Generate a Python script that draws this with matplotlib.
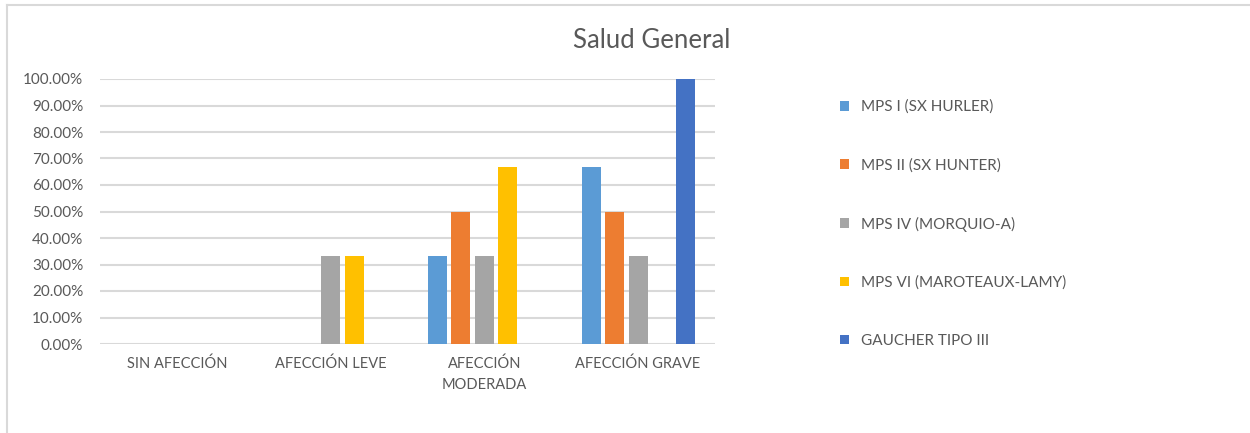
import matplotlib.pyplot as plt
import matplotlib.ticker as mtick
from matplotlib.patches import Patch
import numpy as np

plt.rcParams['font.family'] = ['Lato', 'DejaVu Sans']

categorias = ['SIN AFECCIÓN', 'AFECCIÓN LEVE', 'AFECCIÓN\nMODERADA', 'AFECCIÓN GRAVE']
series = ['MPS I (SX HURLER)', 'MPS II (SX HUNTER)', 'MPS IV (MORQUIO-A)',
          'MPS VI (MAROTEAUX-LAMY)', 'GAUCHER TIPO III']
mps_i = [0.0, 0.0, 1 / 3, 2 / 3]
mps_ii = [0.0, 0.0, 0.5, 0.5]
mps_iv = [0.0, 1 / 3, 1 / 3, 1 / 3]
mps_vi = [0.0, 1 / 3, 2 / 3, 0.0]
gaucher = [0.0, 0.0, 0.0, 1.0]
colores = ['#5B9BD5', '#ED7D31', '#A5A5A5', '#FFC000', '#4472C4']

gris_texto = '#595959'
gris_linea = '#D9D9D9'

dpi = 100
fig = plt.figure(dpi=dpi, figsize=(1250 / dpi, 433 / dpi))
ax = fig.add_axes([100 / 1250, 1 - 344 / 433, 615 / 1250, 265 / 433])

x = np.arange(len(categorias))
paso = 0.153
ancho = 0.124
valores = [mps_i, mps_ii, mps_iv, mps_vi, gaucher]
for i, (vals, color) in enumerate(zip(valores, colores)):
    ax.bar(x + (i - 2) * paso, vals, ancho, color=color, zorder=3)

ax.set_xlim(-0.5, 3.5)
ax.set_ylim(0, 1)
ax.set_yticks(np.arange(0, 1.01, 0.1))
ax.yaxis.set_major_formatter(mtick.PercentFormatter(1.0, decimals=2))
ax.set_xticks(x)
ax.set_xticklabels(categorias, linespacing=1.6)
ax.tick_params(axis='y', length=0, pad=12, labelsize=11, labelcolor=gris_texto)
ax.tick_params(axis='x', length=0, pad=9, labelsize=10.5, labelcolor=gris_texto)
ax.grid(axis='y', color=gris_linea, linewidth=1.5, zorder=0)
ax.set_axisbelow(True)
for s in ax.spines.values():
    s.set_visible(False)

fig.text(652 / 1250, 1 - 40 / 433, 'Salud General', ha='center', va='center',
         fontsize=18.5, color=gris_texto)

handles = [Patch(facecolor=c) for c in colores]
fig.legend(handles, series, loc='upper left', bbox_to_anchor=(826 / 1250, 1 - 86 / 433),
           frameon=False, fontsize=11, labelcolor=gris_texto,
           handlelength=0.62, handleheight=0.62, handletextpad=0.75, labelspacing=2.88)

# marco del gráfico
fig.add_artist(plt.Line2D([7 / 1250, 7 / 1250], [0, 1 - 5 / 433], color=gris_linea, linewidth=1.5))
fig.add_artist(plt.Line2D([7 / 1250, 1], [1 - 5 / 433, 1 - 5 / 433], color=gris_linea, linewidth=1.5))

fig.savefig('out.png', dpi=dpi)
